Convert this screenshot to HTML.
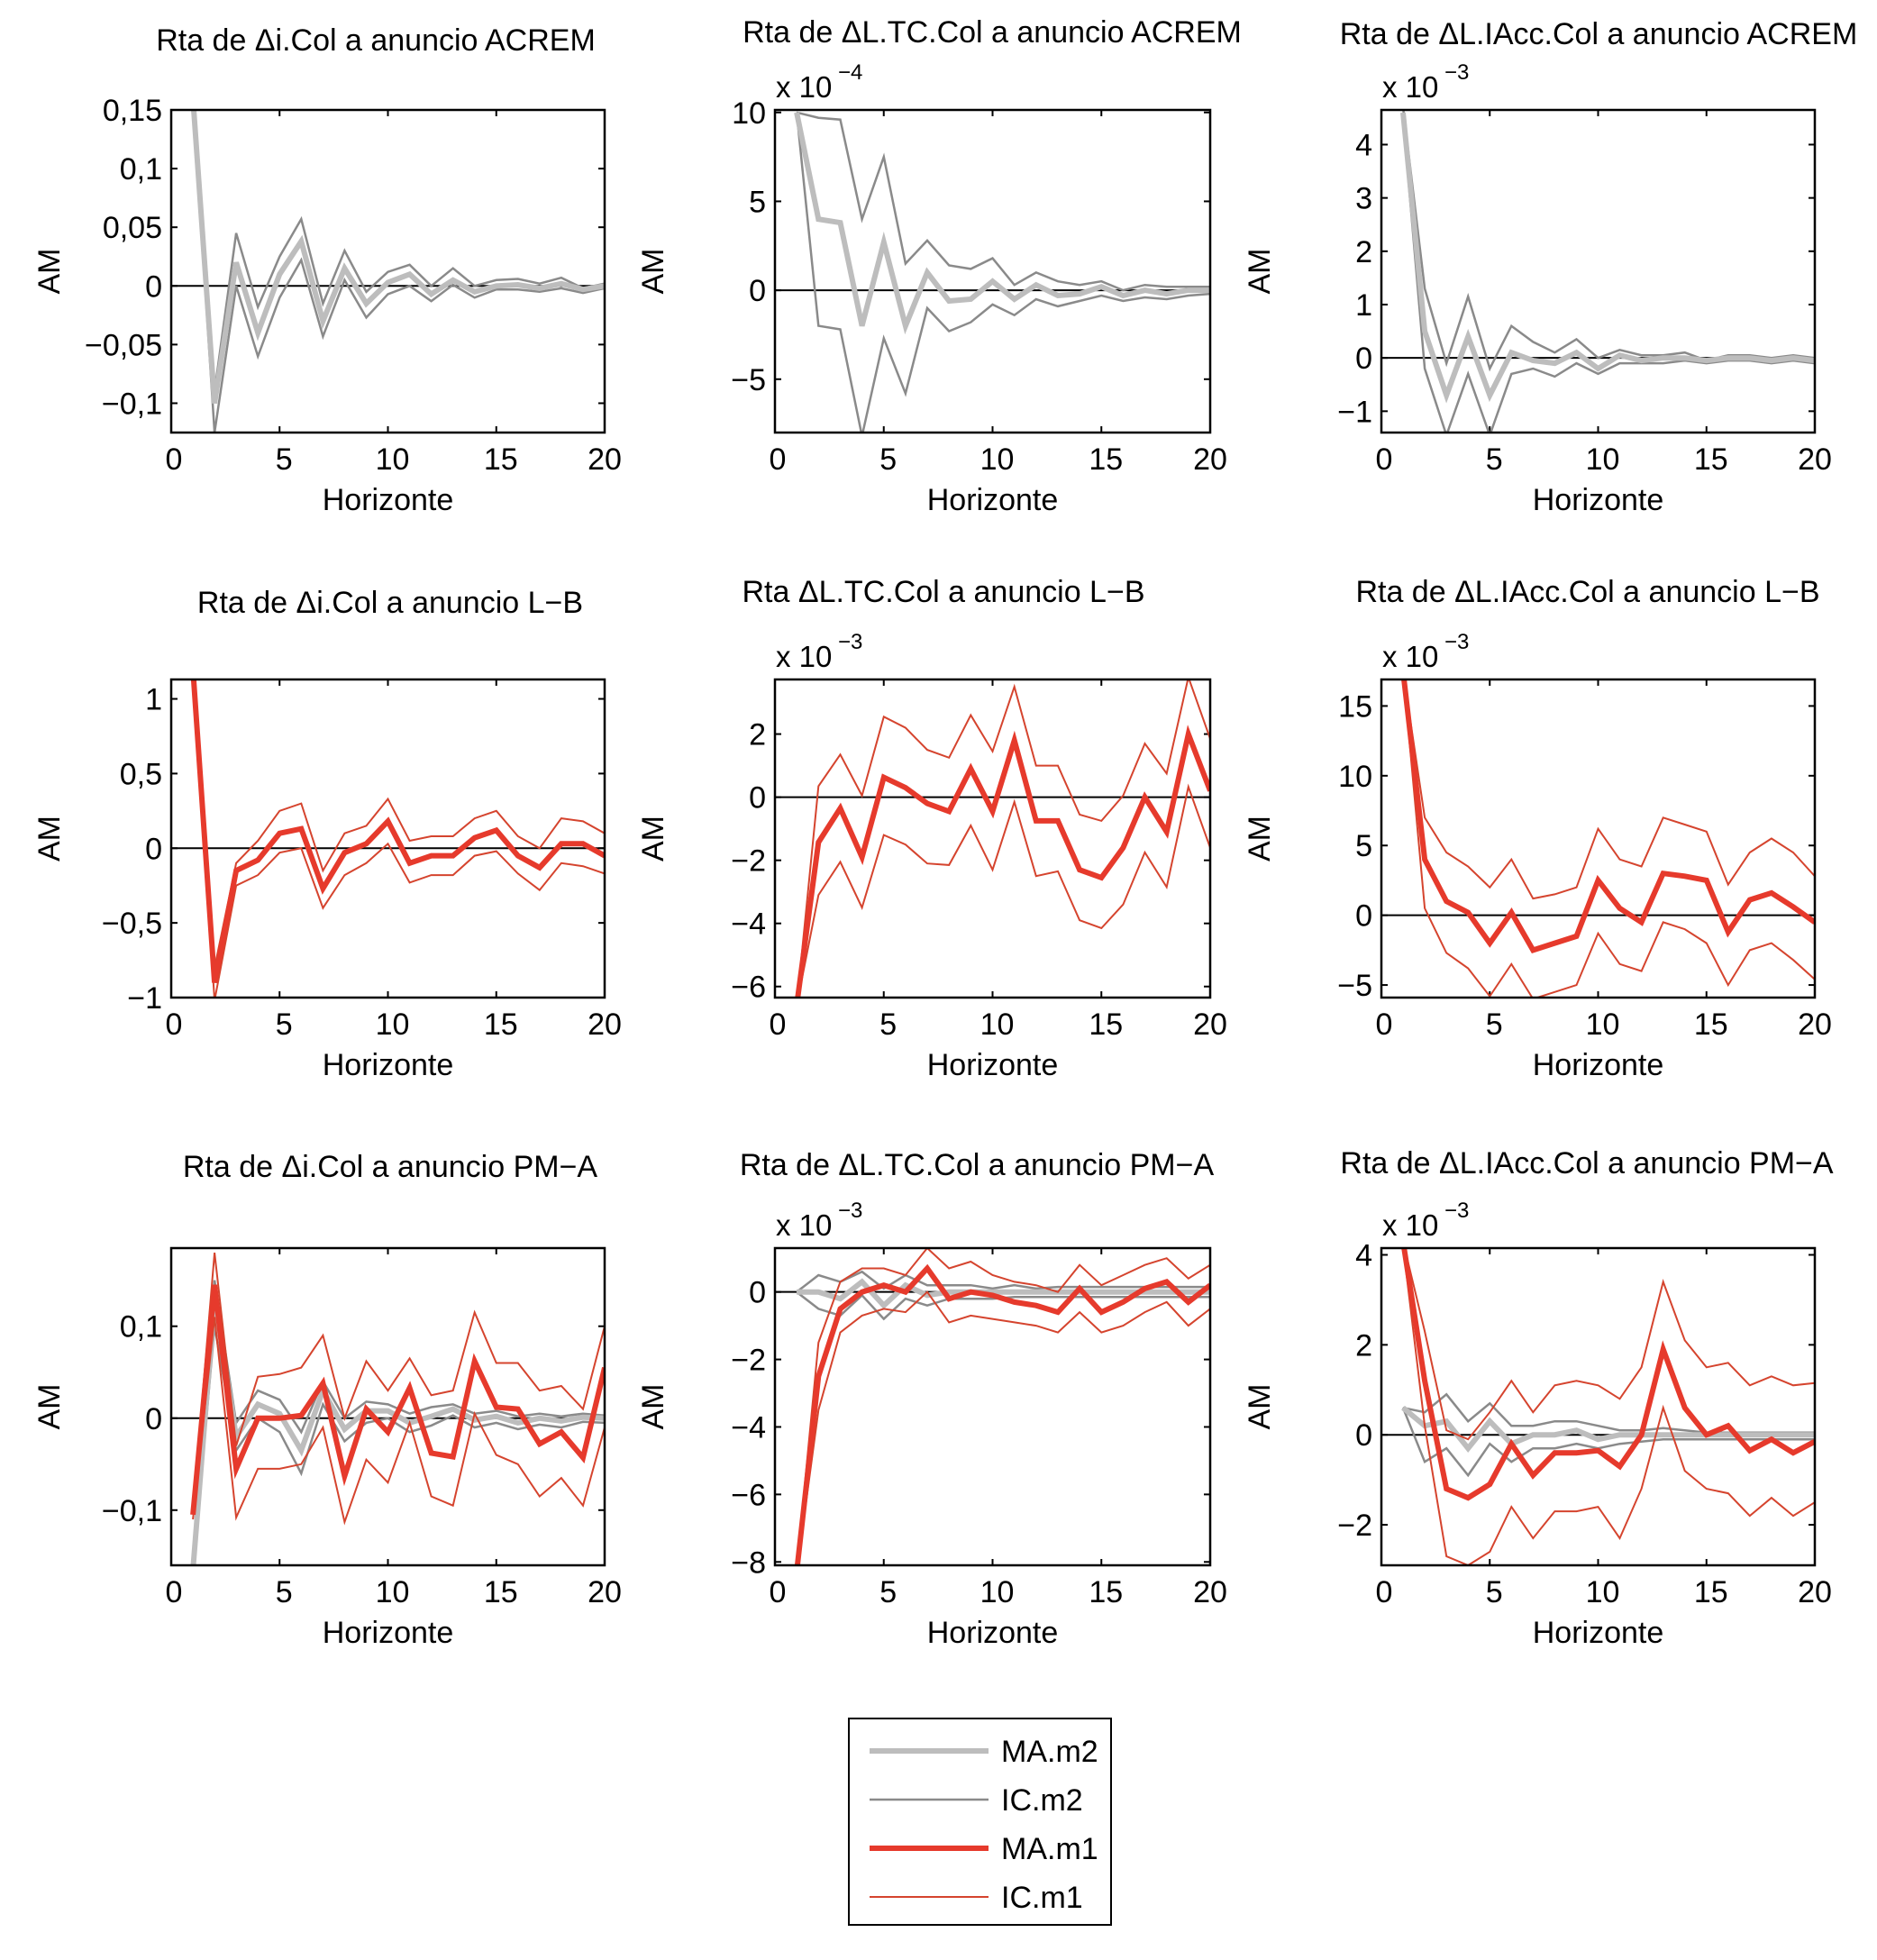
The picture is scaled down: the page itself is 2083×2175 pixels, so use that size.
<!DOCTYPE html>
<html><head><meta charset="utf-8"><style>
html,body{margin:0;padding:0;background:#fff}
svg{display:block}
text{font-family:"Liberation Sans",Arial,sans-serif;fill:#000}
</style></head><body>
<svg id="fig" width="2083" height="2175" viewBox="0 0 2083 2175" xmlns="http://www.w3.org/2000/svg">
<g id="panels"></g>
<g>
<rect x="942" y="1907" width="291" height="229" fill="#fff" stroke="#000" stroke-width="2"/>
<line x1="965" y1="1943" x2="1097" y2="1943" stroke="#bdbdbd" stroke-width="6"/>
<text x="1111" y="1955" font-size="34">MA.m2</text>
<line x1="965" y1="1997" x2="1097" y2="1997" stroke="#8a8a8a" stroke-width="2.5"/>
<text x="1111" y="2009" font-size="34">IC.m2</text>
<line x1="965" y1="2051" x2="1097" y2="2051" stroke="#e63a2c" stroke-width="6"/>
<text x="1111" y="2063" font-size="34">MA.m1</text>
<line x1="965" y1="2105" x2="1097" y2="2105" stroke="#d5442e" stroke-width="2"/>
<text x="1111" y="2117" font-size="34">IC.m1</text>
</g>
</svg>
<script>
const horizons = [1,2,3,4,5,6,7,8,9,10,11,12,13,14,15,16,17,18,19,20];
const xTicks = [0,5,10,15,20];
// Panel 1
const p1_ma2 = [0.16,-0.1,0.02,-0.04,0.01,0.038,-0.03,0.015,-0.015,0.003,0.01,-0.007,0.005,-0.005,0,0.001,-0.002,0.002,-0.003,0];
const p1_up2 = [0.16,-0.09,0.045,-0.018,0.025,0.057,-0.015,0.03,-0.005,0.012,0.018,0,0.015,0,0.005,0.006,0.002,0.007,-0.002,0.002];
const p1_lo2 = [0.16,-0.125,0,-0.06,-0.01,0.022,-0.043,0.005,-0.027,-0.007,0,-0.013,0.001,-0.01,-0.003,-0.003,-0.005,-0.002,-0.006,-0.002];
const p1_yTicks = [-0.1,-0.05,0,0.05,0.1,0.15];
const p1_yLabels = ["\u22120,1","\u22120,05","0","0,05","0,1","0,15"];
// Panel 2 (x1e-4)
const p2_ma2 = [10,4,3.8,-2,2.7,-2,1,-0.6,-0.5,0.5,-0.5,0.3,-0.3,-0.2,0.2,-0.3,0,-0.2,0,0];
const p2_up2 = [10,9.7,9.6,4,7.5,1.5,2.8,1.4,1.2,1.8,0.3,1,0.5,0.3,0.5,0,0.3,0.2,0.2,0.2];
const p2_lo2 = [10,-2,-2.2,-8.2,-2.7,-5.8,-1,-2.3,-1.8,-0.8,-1.4,-0.5,-0.9,-0.6,-0.3,-0.6,-0.4,-0.5,-0.3,-0.2];
const p2_yTicks = [-5,0,5,10];
const p2_yLabels = ["\u22125","0","5","10"];
// Panel 3 (x1e-3)
const p3_ma2 = [4.6,0.5,-0.7,0.4,-0.7,0.1,-0.05,-0.1,0.1,-0.2,0.05,-0.05,0,0,-0.05,0,0,-0.05,0,-0.05];
const p3_up2 = [4.7,1.3,-0.1,1.15,-0.2,0.6,0.3,0.1,0.35,0,0.15,0.05,0.05,0.1,-0.05,0.05,0.05,0,0.05,0];
const p3_lo2 = [4.5,-0.2,-1.45,-0.3,-1.45,-0.3,-0.2,-0.35,-0.1,-0.3,-0.1,-0.1,-0.1,-0.05,-0.1,-0.05,-0.05,-0.1,-0.05,-0.1];
const p3_yTicks = [-1,0,1,2,3,4];
const p3_yLabels = ["\u22121","0","1","2","3","4"];
// Panel 4
const p4_ma1 = [1.2,-0.9,-0.15,-0.08,0.1,0.13,-0.27,-0.03,0.03,0.18,-0.1,-0.05,-0.05,0.07,0.12,-0.05,-0.13,0.03,0.03,-0.05];
const p4_up1 = [1.2,-0.8,-0.1,0.05,0.25,0.3,-0.15,0.1,0.15,0.33,0.05,0.08,0.08,0.2,0.25,0.08,0,0.2,0.18,0.1];
const p4_lo1 = [1.2,-1.02,-0.25,-0.18,-0.03,0,-0.4,-0.18,-0.1,0.03,-0.23,-0.18,-0.18,-0.05,-0.02,-0.17,-0.28,-0.1,-0.12,-0.17];
const p4_yTicks = [-1,-0.5,0,0.5,1];
const p4_yLabels = ["\u22121","\u22120,5","0","0,5","1"];
// Panel 5 (x1e-3)
const p5_ma1 = [-6.6,-1.43,-0.35,-1.9,0.63,0.3,-0.2,-0.45,0.9,-0.45,1.8,-0.75,-0.75,-2.3,-2.55,-1.6,0,-1.1,2.0,0.2];
const p5_up1 = [-6.6,0.35,1.35,0.05,2.55,2.2,1.5,1.25,2.6,1.45,3.5,1.0,1.0,-0.55,-0.75,0.05,1.7,0.75,3.8,1.85];
const p5_lo1 = [-6.6,-3.1,-2.05,-3.5,-1.2,-1.5,-2.1,-2.15,-0.9,-2.3,-0.15,-2.5,-2.35,-3.9,-4.15,-3.4,-1.75,-2.85,0.33,-1.6];
const p5_yTicks = [-6,-4,-2,0,2];
const p5_yLabels = ["\u22126","\u22124","\u22122","0","2"];
// Panel 6 (x1e-3)
const p6_ma1 = [17.5,4,1,0.2,-2,0.2,-2.5,-2,-1.5,2.5,0.5,-0.5,3,2.8,2.5,-1.2,1.1,1.6,0.6,-0.5];
const p6_up1 = [17.5,7,4.5,3.5,2,4,1.2,1.5,2,6.2,4,3.5,7,6.5,6,2.2,4.5,5.5,4.5,2.8];
const p6_lo1 = [17.5,0.5,-2.7,-3.8,-5.8,-3.5,-6,-5.5,-5,-1.3,-3.5,-4,-0.5,-1,-2,-5,-2.5,-2,-3.2,-4.6];
const p6_yTicks = [-5,0,5,10,15];
const p6_yLabels = ["\u22125","0","5","10","15"];
// Panel 7
const p7_ma1 = [-0.105,0.145,-0.055,0,0,0.003,0.038,-0.063,0.01,-0.015,0.033,-0.038,-0.042,0.062,0.012,0.01,-0.028,-0.015,-0.043,0.055];
const p7_up1 = [-0.1,0.18,-0.03,0.045,0.048,0.055,0.09,0,0.062,0.03,0.065,0.025,0.03,0.115,0.06,0.06,0.03,0.035,0.01,0.1];
const p7_lo1 = [-0.11,0.11,-0.108,-0.055,-0.055,-0.05,-0.01,-0.113,-0.045,-0.07,-0.005,-0.085,-0.095,0.005,-0.04,-0.05,-0.085,-0.065,-0.095,-0.01];
const p7_ma2 = [-0.165,0.13,-0.02,0.015,0.005,-0.035,0.03,-0.012,0.008,0.008,-0.005,0.002,0.01,-0.002,0.002,-0.005,0,-0.003,0.001,0];
const p7_up2 = [-0.165,0.15,-0.005,0.03,0.02,-0.015,0.04,0,0.018,0.015,0.005,0.012,0.015,0.005,0.008,0.002,0.005,0.002,0.005,0.003];
const p7_lo2 = [-0.165,0.1,-0.035,0,-0.015,-0.06,0.015,-0.025,-0.005,0,-0.015,-0.008,0.003,-0.01,-0.005,-0.012,-0.007,-0.01,-0.004,-0.005];
const p7_yTicks = [-0.1,0,0.1];
const p7_yLabels = ["\u22120,1","0","0,1"];
// Panel 8 (x1e-3)
const p8_ma1 = [-8.3,-2.5,-0.5,0,0.2,0,0.7,-0.2,0,-0.1,-0.3,-0.4,-0.6,0.1,-0.6,-0.3,0.1,0.3,-0.3,0.2];
const p8_up1 = [-8.2,-1.5,0.3,0.7,0.7,0.5,1.3,0.7,0.9,0.5,0.3,0.2,0,0.8,0.2,0.5,0.8,1.0,0.4,0.8];
const p8_lo1 = [-8.3,-3.5,-1.2,-0.7,-0.5,-0.6,0,-0.9,-0.7,-0.8,-0.9,-1.0,-1.2,-0.6,-1.2,-1.0,-0.6,-0.3,-1.0,-0.5];
const p8_ma2 = [0,0,-0.2,0.3,-0.4,0.2,-0.1,0,0,0,0,0,0,0,0,0,0,0,0,0];
const p8_up2 = [0,0.5,0.3,0.6,0.1,0.5,0.2,0.2,0.2,0.1,0.2,0.1,0.15,0.15,0.15,0.15,0.15,0.15,0.15,0.15];
const p8_lo2 = [0,-0.5,-0.7,-0.1,-0.8,-0.2,-0.4,-0.2,-0.2,-0.2,-0.15,-0.15,-0.15,-0.15,-0.15,-0.15,-0.15,-0.15,-0.15,-0.15];
const p8_yTicks = [-8,-6,-4,-2,0];
const p8_yLabels = ["\u22128","\u22126","\u22124","\u22122","0"];
// Panel 9 (x1e-3)
const p9_ma1 = [4.3,1.2,-1.2,-1.4,-1.1,-0.2,-0.9,-0.4,-0.4,-0.35,-0.7,0,1.9,0.6,0,0.2,-0.35,-0.1,-0.4,-0.15];
const p9_up1 = [4.3,2.3,0.1,-0.1,0.5,1.2,0.5,1.1,1.2,1.1,0.8,1.5,3.4,2.1,1.5,1.6,1.1,1.3,1.1,1.15];
const p9_lo1 = [4.2,0.2,-2.7,-2.9,-2.6,-1.6,-2.3,-1.7,-1.7,-1.6,-2.3,-1.2,0.6,-0.8,-1.2,-1.3,-1.8,-1.4,-1.8,-1.5];
const p9_ma2 = [0.6,0.2,0.3,-0.3,0.3,-0.2,0,0,0.1,-0.1,0,0,0,0,0,0,0,0,0,0];
const p9_up2 = [0.6,0.5,0.9,0.3,0.7,0.2,0.2,0.3,0.3,0.2,0.1,0.1,0.15,0.1,0.05,0.05,0.05,0.05,0.05,0.05];
const p9_lo2 = [0.6,-0.6,-0.3,-0.9,-0.2,-0.6,-0.3,-0.3,-0.2,-0.3,-0.2,-0.15,-0.1,-0.1,-0.1,-0.1,-0.1,-0.1,-0.1,-0.1];
const p9_yTicks = [-2,0,2,4];
const p9_yLabels = ["\u22122","0","2","4"];

const NS = "http://www.w3.org/2000/svg";
const root = document.getElementById('panels');
const cols = [[190,671],[860,1343],[1533,2014]];
const rows = [[122,480],[754,1107],[1385,1737]];
const panels = [
 {r:0,c:0,t:"Rta de \u0394i.Col a anuncio ACREM",ty:56,tx:417,ymin:-0.125,ymax:0.15,yt:p1_yTicks,yl:p1_yLabels,exp:null,gray:[p1_ma2,p1_up2,p1_lo2],red:null},
 {r:0,c:1,t:"Rta de \u0394L.TC.Col a anuncio ACREM",ty:47,tx:1101,ymin:-8,ymax:10.14,yt:p2_yTicks,yl:p2_yLabels,exp:"\u22124",gray:[p2_ma2,p2_up2,p2_lo2],red:null},
 {r:0,c:2,t:"Rta de \u0394L.IAcc.Col a anuncio ACREM",ty:49,tx:1774,ymin:-1.4,ymax:4.65,yt:p3_yTicks,yl:p3_yLabels,exp:"\u22123",gray:[p3_ma2,p3_up2,p3_lo2],red:null},
 {r:1,c:0,t:"Rta de \u0394i.Col a anuncio L\u2212B",ty:680,tx:433,ymin:-1.0,ymax:1.13,yt:p4_yTicks,yl:p4_yLabels,exp:null,gray:null,red:[p4_ma1,p4_up1,p4_lo1]},
 {r:1,c:1,t:"Rta \u0394L.TC.Col a anuncio L\u2212B",ty:668,tx:1047,ymin:-6.35,ymax:3.73,yt:p5_yTicks,yl:p5_yLabels,exp:"\u22123",gray:null,red:[p5_ma1,p5_up1,p5_lo1]},
 {r:1,c:2,t:"Rta de \u0394L.IAcc.Col a anuncio L\u2212B",ty:668,tx:1762,ymin:-5.9,ymax:16.9,yt:p6_yTicks,yl:p6_yLabels,exp:"\u22123",gray:null,red:[p6_ma1,p6_up1,p6_lo1]},
 {r:2,c:0,t:"Rta de \u0394i.Col a anuncio PM\u2212A",ty:1306,tx:433,ymin:-0.16,ymax:0.185,yt:p7_yTicks,yl:p7_yLabels,exp:null,gray:[p7_ma2,p7_up2,p7_lo2],red:[p7_ma1,p7_up1,p7_lo1]},
 {r:2,c:1,t:"Rta de \u0394L.TC.Col a anuncio PM\u2212A",ty:1304,tx:1084,ymin:-8.1,ymax:1.3,yt:p8_yTicks,yl:p8_yLabels,exp:"\u22123",gray:[p8_ma2,p8_up2,p8_lo2],red:[p8_ma1,p8_up1,p8_lo1]},
 {r:2,c:2,t:"Rta de \u0394L.IAcc.Col a anuncio PM\u2212A",ty:1302,tx:1761,ymin:-2.9,ymax:4.15,yt:p9_yTicks,yl:p9_yLabels,exp:"\u22123",gray:[p9_ma2,p9_up2,p9_lo2],red:[p9_ma1,p9_up1,p9_lo1]}
];
function mk(tag, attrs, parent){const e=document.createElementNS(NS,tag);for(const k in attrs)e.setAttribute(k,attrs[k]);parent.appendChild(e);return e;}
panels.forEach((p,i)=>{
 const x0=cols[p.c][0],x1=cols[p.c][1],y0=rows[p.r][0],y1=rows[p.r][1];
 const sx=v=>x0+(v-0)/20*(x1-x0);
 const sy=v=>y1-(v-p.ymin)/(p.ymax-p.ymin)*(y1-y0);
 const g=mk('g',{},root);
 
 
 const cp=mk('clipPath',{id:'cp'+i},g);
 mk('rect',{x:x0,y:y0,width:x1-x0,height:y1-y0},cp);
 const title=mk('text',{x:p.tx,y:p.ty,'font-size':34,'text-anchor':'middle'},g);
 title.textContent=p.t;
 
 
 if(p.exp){
  const ex=mk('text',{x:x0+1,y:y0-14,'font-size':33},g);
  ex.textContent='x 10';
  
  
  const es=mk('text',{x:x0+70,y:y0-34,'font-size':24},g);
  es.textContent=p.exp;
  
  
 }
 p.yt.forEach((v,k)=>{
  const y=sy(v);
  mk('line',{x1:x0,y1:y,x2:x0+7,y2:y,stroke:'#000','stroke-width':2},g);
  mk('line',{x1:x1,y1:y,x2:x1-7,y2:y,stroke:'#000','stroke-width':2},g);
  const t=mk('text',{x:x0-10,y:y+12,'font-size':34,'text-anchor':'end'},g);
  t.textContent=p.yl[k];
  
  
 });
 xTicks.forEach(v=>{
  const x=sx(v);
  mk('line',{x1:x,y1:y1,x2:x,y2:y1-7,stroke:'#000','stroke-width':2},g);
  mk('line',{x1:x,y1:y0,x2:x,y2:y0+7,stroke:'#000','stroke-width':2},g);
  const t=mk('text',{x:x+(v===0?3:(v===20?0:5)),y:y1+41,'font-size':34,'text-anchor':'middle'},g);
  t.textContent=String(v);
  
  
 });
 const xl=mk('text',{x:(x0+x1)/2,y:y1+86,'font-size':34,'text-anchor':'middle'},g);
 xl.textContent='Horizonte';
 
 
 const ym=(y0+y1)/2, yx=x0-124;
 const yl=mk('text',{x:yx,y:ym,'font-size':34,'text-anchor':'middle',transform:`rotate(-90 ${yx} ${ym})`},g);
 yl.textContent='AM';
 
 
 const lines=mk('g',{'clip-path':`url(#cp${i})`},g);
 mk('line',{x1:x0,y1:sy(0),x2:x1,y2:sy(0),stroke:'#000','stroke-width':2},lines);
 const path=(arr,color,w,name)=>{
  const d=arr.map((v,k)=>(k?'L':'M')+sx(horizons[k]).toFixed(1)+' '+sy(v).toFixed(1)).join(' ');
  const e=mk('path',{d:d,fill:'none',stroke:color,'stroke-width':w,'stroke-linejoin':'miter'},lines);
  
  
 };
 if(p.gray){
  path(p.gray[1],'#8a8a8a',2.5,'ic-m2-upper');
  path(p.gray[2],'#8a8a8a',2.5,'ic-m2-lower');
  path(p.gray[0],'#bdbdbd',6,'ma-m2-line');
 }
 if(p.red){
  path(p.red[1],'#d5442e',2,'ic-m1-upper');
  path(p.red[2],'#d5442e',2,'ic-m1-lower');
  path(p.red[0],'#e63a2c',6,'ma-m1-line');
 }
 mk('rect',{x:x0,y:y0,width:x1-x0,height:y1-y0,fill:'none',stroke:'#000','stroke-width':2.5},g);
});
</script>
</body></html>
